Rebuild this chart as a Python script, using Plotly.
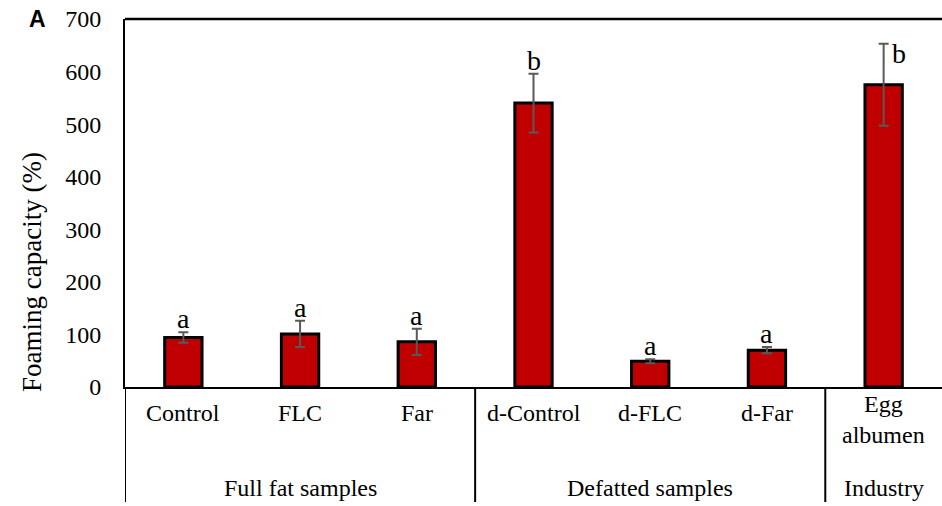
import plotly.graph_objects as go

categories = ["Control", "FLC", "Far", "d-Control", "d-FLC", "d-Far", "Egg albumen"]
tick_labels = ["Control", "FLC", "Far", "d-Control", "d-FLC", "d-Far", "Egg<br>albumen"]
values = [94, 101, 86, 540, 49, 70, 575]
errors = [10, 25, 25, 56, 4, 6, 78]
letters = ["a", "a", "a", "b", "a", "a", "b"]
groups = ["Full fat samples", "Defatted samples", "Industry"]
group_spans = [(0, 2), (3, 5), (6, 6)]
y_ticks = [0, 100, 200, 300, 400, 500, 600, 700]

SERIF = "Liberation Serif, Times New Roman, serif"

fig = go.Figure()
fig.add_trace(go.Bar(
    x=categories, y=values,
    marker=dict(color="#C00000", line=dict(color="black", width=3)),
    width=0.32,
    error_y=dict(type="data", array=errors, visible=True, color="#595959",
                 thickness=2, width=5),
    showlegend=False,
))

annotations = []
for i, (c, v, e, l) in enumerate(zip(categories, values, errors, letters)):
    top = v + e
    if top > 620:
        annotations.append(dict(x=c, y=top, xref="x", yref="y", text=l, showarrow=False,
                                xshift=15, yanchor="top", yshift=8,
                                font=dict(family=SERIF, size=28, color="black")))
    else:
        annotations.append(dict(x=c, y=top, xref="x", yref="y", text=l, showarrow=False,
                                yanchor="bottom", yshift=-4,
                                font=dict(family=SERIF, size=28, color="black")))

for c, t in zip(categories, tick_labels):
    if "<br>" in t:
        annotations.append(dict(x=c, y=0, xref="x", yref="paper", text=t, showarrow=False,
                                yanchor="middle", yshift=-32,
                                font=dict(family=SERIF, size=24, color="black")))
    else:
        annotations.append(dict(x=c, y=0, xref="x", yref="paper", text=t, showarrow=False,
                                yanchor="middle", yshift=-26,
                                font=dict(family=SERIF, size=24, color="black")))

for g, (a, b) in zip(groups, group_spans):
    annotations.append(dict(x=(a + b) / 2, y=0, xref="x", yref="paper", text=g, showarrow=False,
                            yanchor="middle", yshift=-101,
                            font=dict(family=SERIF, size=24, color="black")))

annotations.append(dict(x=0, y=1, xref="paper", yref="paper", text="<b>A</b>", showarrow=False,
                        xanchor="center", yanchor="middle", xshift=-88, yshift=0,
                        font=dict(family="Liberation Sans, Arial, sans-serif", size=23, color="black")))

annotations.append(dict(x=0, y=(387 - 272) / 368, xref="paper", yref="paper",
                        text="Foaming capacity (%)", showarrow=False, textangle=-90,
                        xanchor="center", yanchor="middle", xshift=-93,
                        font=dict(family=SERIF, size=27, color="black")))

shapes = []
shapes.append(dict(type="line", xref="paper", yref="paper", x0=0, x1=1, y0=1, y1=1,
                   line=dict(color="black", width=2.5)))
bottom = -115 / 368
for xs in [-0.5, 2.5, 5.5]:
    shapes.append(dict(type="line", xref="x", yref="paper", x0=xs, x1=xs, y0=0, y1=bottom,
                       line=dict(color="black", width=2)))

fig.update_layout(
    width=942, height=506,
    margin=dict(l=125, r=0, t=19, b=119),
    paper_bgcolor="white", plot_bgcolor="white",
    annotations=annotations,
    shapes=shapes,
    xaxis=dict(showticklabels=False, showline=True, linecolor="black", linewidth=1.5,
               showgrid=False, zeroline=False, range=[-0.5, 6.5], ticks=""),
    yaxis=dict(range=[0, 700], tickvals=y_ticks, showline=True, linecolor="black",
               linewidth=2, showgrid=False, zeroline=False, ticks="",
               ticklabelstandoff=17,
               tickfont=dict(family=SERIF, size=24, color="black")),
)

fig.write_html("out.html")
